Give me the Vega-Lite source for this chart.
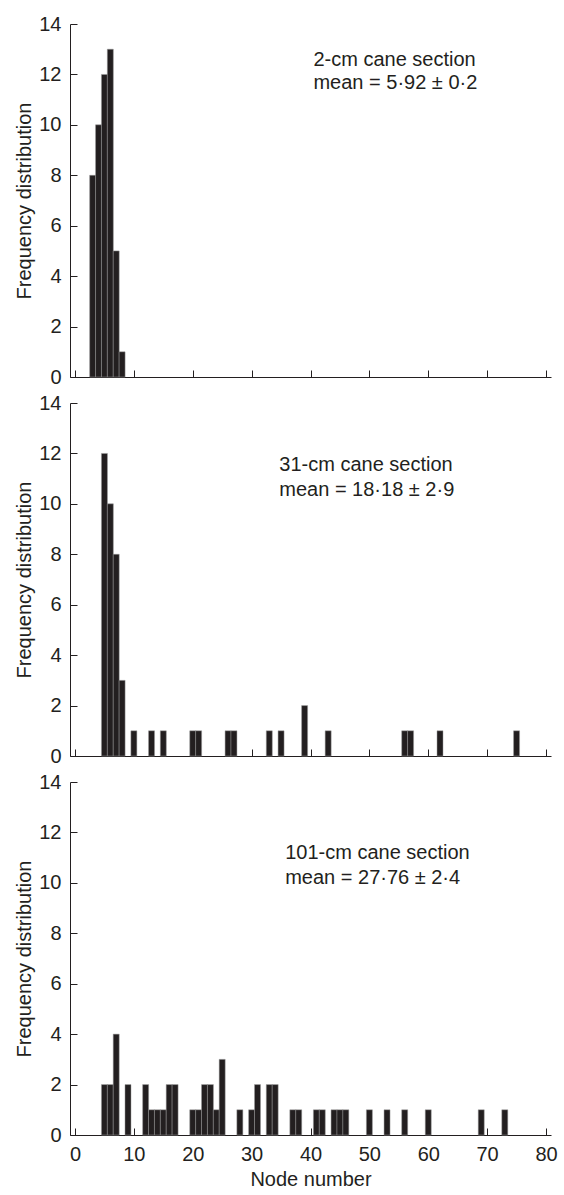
{
  "$schema": "https://vega.github.io/schema/vega-lite/v6.json",
  "padding": {"left": 14, "top": 14, "right": 0, "bottom": 2},
  "background": "white",
  "spacing": 6,
  "datasets": {
    "bars": [
      {"panel": 1, "node": 3, "count": 8},
      {"panel": 1, "node": 4, "count": 10},
      {"panel": 1, "node": 5, "count": 12},
      {"panel": 1, "node": 6, "count": 13},
      {"panel": 1, "node": 7, "count": 5},
      {"panel": 1, "node": 8, "count": 1},
      {"panel": 2, "node": 5, "count": 12},
      {"panel": 2, "node": 6, "count": 10},
      {"panel": 2, "node": 7, "count": 8},
      {"panel": 2, "node": 8, "count": 3},
      {"panel": 2, "node": 10, "count": 1},
      {"panel": 2, "node": 13, "count": 1},
      {"panel": 2, "node": 15, "count": 1},
      {"panel": 2, "node": 20, "count": 1},
      {"panel": 2, "node": 21, "count": 1},
      {"panel": 2, "node": 26, "count": 1},
      {"panel": 2, "node": 27, "count": 1},
      {"panel": 2, "node": 33, "count": 1},
      {"panel": 2, "node": 35, "count": 1},
      {"panel": 2, "node": 39, "count": 2},
      {"panel": 2, "node": 43, "count": 1},
      {"panel": 2, "node": 56, "count": 1},
      {"panel": 2, "node": 57, "count": 1},
      {"panel": 2, "node": 62, "count": 1},
      {"panel": 2, "node": 75, "count": 1},
      {"panel": 3, "node": 5, "count": 2},
      {"panel": 3, "node": 6, "count": 2},
      {"panel": 3, "node": 7, "count": 4},
      {"panel": 3, "node": 9, "count": 2},
      {"panel": 3, "node": 12, "count": 2},
      {"panel": 3, "node": 13, "count": 1},
      {"panel": 3, "node": 14, "count": 1},
      {"panel": 3, "node": 15, "count": 1},
      {"panel": 3, "node": 16, "count": 2},
      {"panel": 3, "node": 17, "count": 2},
      {"panel": 3, "node": 20, "count": 1},
      {"panel": 3, "node": 21, "count": 1},
      {"panel": 3, "node": 22, "count": 2},
      {"panel": 3, "node": 23, "count": 2},
      {"panel": 3, "node": 24, "count": 1},
      {"panel": 3, "node": 25, "count": 3},
      {"panel": 3, "node": 28, "count": 1},
      {"panel": 3, "node": 30, "count": 1},
      {"panel": 3, "node": 31, "count": 2},
      {"panel": 3, "node": 33, "count": 2},
      {"panel": 3, "node": 34, "count": 2},
      {"panel": 3, "node": 37, "count": 1},
      {"panel": 3, "node": 38, "count": 1},
      {"panel": 3, "node": 41, "count": 1},
      {"panel": 3, "node": 42, "count": 1},
      {"panel": 3, "node": 44, "count": 1},
      {"panel": 3, "node": 45, "count": 1},
      {"panel": 3, "node": 46, "count": 1},
      {"panel": 3, "node": 50, "count": 1},
      {"panel": 3, "node": 53, "count": 1},
      {"panel": 3, "node": 56, "count": 1},
      {"panel": 3, "node": 60, "count": 1},
      {"panel": 3, "node": 69, "count": 1},
      {"panel": 3, "node": 73, "count": 1}
    ],
    "notes": [
      {"panel": 1, "x": 40.5, "y": 12.57, "label": "2-cm cane section"},
      {"panel": 1, "x": 40.5, "y": 11.65, "label": "mean = 5·92 ± 0·2"},
      {"panel": 2, "x": 34.7, "y": 11.55, "label": "31-cm cane section"},
      {"panel": 2, "x": 34.7, "y": 10.55, "label": "mean = 18·18 ± 2·9"},
      {"panel": 3, "x": 35.7, "y": 11.2, "label": "101-cm cane section"},
      {"panel": 3, "x": 35.7, "y": 10.2, "label": "mean = 27·76 ± 2·4"}
    ]
  },
  "config": {
    "font": "Liberation Sans",
    "view": {"stroke": null},
    "axis": {
      "domainColor": "#231f20",
      "domainWidth": 1,
      "tickColor": "#231f20",
      "tickWidth": 1,
      "tickSize": -7,
      "labelFont": "Liberation Sans",
      "labelFontSize": 20,
      "labelColor": "#231f20",
      "titleFont": "Liberation Sans",
      "titleFontSize": 20,
      "titleFontWeight": "normal",
      "titleColor": "#231f20",
      "grid": false
    }
  },
  "vconcat": [
    {
      "width": 481, "height": 353,
      "layer": [
        {
          "data": {"name": "bars"},
          "transform": [{"filter": "datum.panel == 1"}],
          "mark": {"type": "bar", "width": 6, "color": "#231f20", "stroke": "#9a9a9a", "strokeWidth": 0.5},
          "encoding": {
            "x": {"field": "node", "type": "quantitative", "scale": {"domain": [0, 80], "nice": false, "zero": false},
                  "axis": {"values": [0,10,20,30,40,50,60,70,80], "labels": false, "title": null}},
            "y": {"field": "count", "type": "quantitative", "scale": {"domain": [0, 14], "nice": false},
                  "axis": {"values": [0,2,4,6,8,10,12,14], "title": "Frequency distribution", "labelPadding": 16}}
          }
        },
        {
          "data": {"name": "notes"},
          "transform": [{"filter": "datum.panel == 1"}],
          "mark": {"type": "text", "align": "left", "baseline": "middle", "fontSize": 20, "color": "#231f20", "font": "Liberation Sans"},
          "encoding": {
            "x": {"field": "x", "type": "quantitative"},
            "y": {"field": "y", "type": "quantitative"},
            "text": {"field": "label"}
          }
        }
      ]
    },
    {
      "width": 481, "height": 353,
      "layer": [
        {
          "data": {"name": "bars"},
          "transform": [{"filter": "datum.panel == 2"}],
          "mark": {"type": "bar", "width": 6, "color": "#231f20", "stroke": "#9a9a9a", "strokeWidth": 0.5},
          "encoding": {
            "x": {"field": "node", "type": "quantitative", "scale": {"domain": [0, 80], "nice": false, "zero": false},
                  "axis": {"values": [0,10,20,30,40,50,60,70,80], "labels": false, "title": null}},
            "y": {"field": "count", "type": "quantitative", "scale": {"domain": [0, 14], "nice": false},
                  "axis": {"values": [0,2,4,6,8,10,12,14], "title": "Frequency distribution", "labelPadding": 16}}
          }
        },
        {
          "data": {"name": "notes"},
          "transform": [{"filter": "datum.panel == 2"}],
          "mark": {"type": "text", "align": "left", "baseline": "middle", "fontSize": 20, "color": "#231f20", "font": "Liberation Sans"},
          "encoding": {
            "x": {"field": "x", "type": "quantitative"},
            "y": {"field": "y", "type": "quantitative"},
            "text": {"field": "label"}
          }
        }
      ]
    },
    {
      "width": 481, "height": 353,
      "layer": [
        {
          "data": {"name": "bars"},
          "transform": [{"filter": "datum.panel == 3"}],
          "mark": {"type": "bar", "width": 6, "color": "#231f20", "stroke": "#9a9a9a", "strokeWidth": 0.5},
          "encoding": {
            "x": {"field": "node", "type": "quantitative", "scale": {"domain": [0, 80], "nice": false, "zero": false},
                  "axis": {"values": [0,10,20,30,40,50,60,70,80], "title": "Node number", "labelPadding": 16, "titlePadding": 5}},
            "y": {"field": "count", "type": "quantitative", "scale": {"domain": [0, 14], "nice": false},
                  "axis": {"values": [0,2,4,6,8,10,12,14], "title": "Frequency distribution", "labelPadding": 16}}
          }
        },
        {
          "data": {"name": "notes"},
          "transform": [{"filter": "datum.panel == 3"}],
          "mark": {"type": "text", "align": "left", "baseline": "middle", "fontSize": 20, "color": "#231f20", "font": "Liberation Sans"},
          "encoding": {
            "x": {"field": "x", "type": "quantitative"},
            "y": {"field": "y", "type": "quantitative"},
            "text": {"field": "label"}
          }
        }
      ]
    }
  ]
}
